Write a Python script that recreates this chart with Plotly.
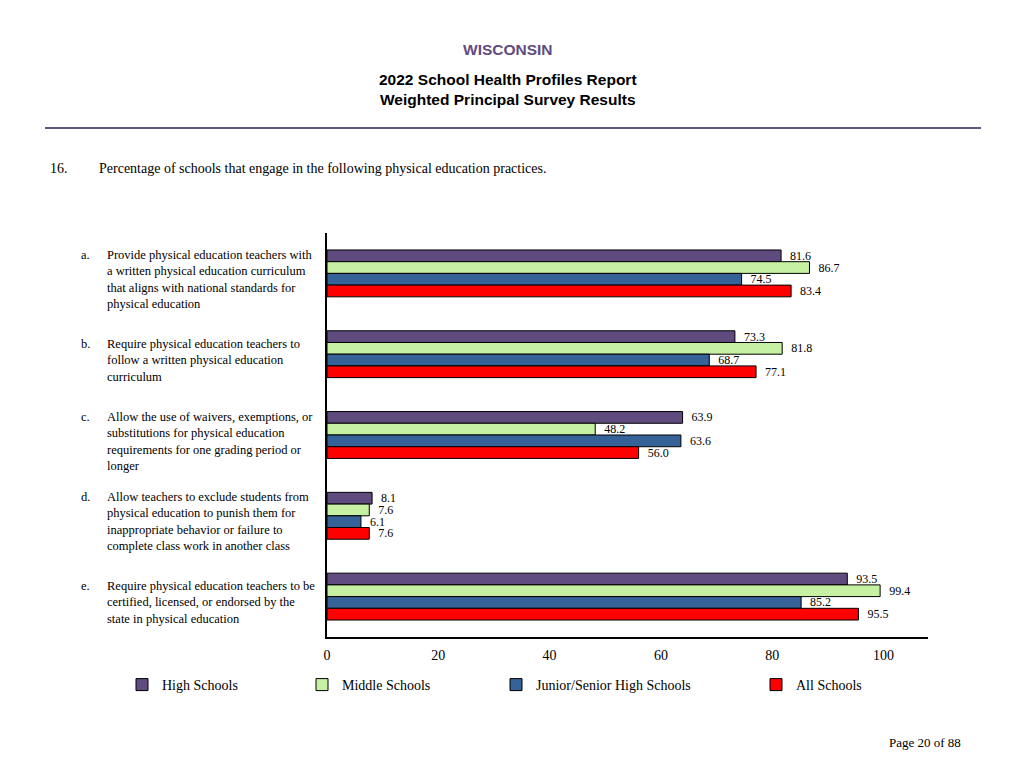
import plotly.graph_objects as go

# ---------------- data ----------------
categories = ["a", "b", "c", "d", "e"]
letters = ["a.", "b.", "c.", "d.", "e."]
cat_labels = [
    "Provide physical education teachers with<br>a written physical education curriculum<br>that aligns with national standards for<br>physical education",
    "Require physical education teachers to<br>follow a written physical education<br>curriculum",
    "Allow the use of waivers, exemptions, or<br>substitutions for physical education<br>requirements for one grading period or<br>longer",
    "Allow teachers to exclude students from<br>physical education to punish them for<br>inappropriate behavior or failure to<br>complete class work in another class",
    "Require physical education teachers to be<br>certified, licensed, or endorsed by the<br>state in physical education",
]
series_names = ["High Schools", "Middle Schools", "Junior/Senior High Schools", "All Schools"]
high_schools = [81.6, 73.3, 63.9, 8.1, 93.5]
middle_schools = [86.7, 81.8, 48.2, 7.6, 99.4]
junior_senior = [74.5, 68.7, 63.6, 6.1, 85.2]
all_schools = [83.4, 77.1, 56.0, 7.6, 95.5]
x_ticks = [0, 20, 40, 60, 80, 100]

series_values = [high_schools, middle_schools, junior_senior, all_schools]
colors = ["#5F4B7E", "#C6F0A2", "#356297", "#FF0000"]

# ---------------- layout geometry ----------------
# page body margin offsets the figure by 8px
OFF = 8
W, H = 1024 - OFF, 768 - OFF
L, R, T, B = 327 - OFF, 928 - OFF, 233 - OFF, 637 - OFF
PW, PH = R - L, B - T


def px(x):
    return (x - OFF - L) / PW


def py(y):
    return (B - (y - OFF)) / PH


SERIF = "Liberation Serif, Times New Roman, serif"
SANS = "Liberation Sans, Arial, sans-serif"

fig = go.Figure()
legend_ids = ["legend", "legend2", "legend3", "legend4"]
for name, vals, col, lg in zip(series_names, series_values, colors, legend_ids):
    fig.add_trace(go.Bar(
        y=categories, x=vals, name=name, orientation="h",
        marker=dict(color=col, line=dict(color="black", width=1)),
        texttemplate="\u00a0\u00a0%{x:.1f}", textposition="outside",
        textfont=dict(family=SERIF, size=12, color="black"),
        constraintext="none", cliponaxis=False,
        legend=lg, hoverinfo="skip",
    ))

annotations = []
# header
annotations.append(dict(text="<b>WISCONSIN</b>", x=px(508), y=py(49), xref="paper", yref="paper",
                        showarrow=False, font=dict(family=SANS, size=15.5, color="#5F4B7E"),
                        xanchor="center", yanchor="middle"))
annotations.append(dict(text="<b>2022 School Health Profiles Report</b>", x=px(508), y=py(79),
                        xref="paper", yref="paper", showarrow=False,
                        font=dict(family=SANS, size=15.5, color="black"), xanchor="center", yanchor="middle"))
annotations.append(dict(text="<b>Weighted Principal Survey Results</b>", x=px(508), y=py(100),
                        xref="paper", yref="paper", showarrow=False,
                        font=dict(family=SANS, size=15.5, color="black"), xanchor="center", yanchor="middle"))
annotations.append(dict(text="16.", x=px(48), y=py(168), xref="paper", yref="paper", showarrow=False,
                        font=dict(family=SERIF, size=14, color="black"), xanchor="left", yanchor="middle"))
annotations.append(dict(text="Percentage of schools that engage in the following physical education practices.",
                        x=px(97), y=py(168), xref="paper", yref="paper", showarrow=False,
                        font=dict(family=SERIF, size=14, color="black"), xanchor="left", yanchor="middle"))
annotations.append(dict(text="Page 20 of 88", x=px(963), y=py(742), xref="paper", yref="paper",
                        showarrow=False, font=dict(family=SERIF, size=13, color="black"),
                        xanchor="right", yanchor="middle"))

# category labels
for cat, let, lab in zip(categories, letters, cat_labels):
    n = lab.count("<br>") + 1
    annotations.append(dict(text=lab, x=px(105), y=cat, xref="paper", yref="y", showarrow=False,
                            align="left", xanchor="left", yanchor="middle", yshift=-6,
                            font=dict(family=SERIF, size=12.5, color="black")))
    annotations.append(dict(text=let + "<br>\u00a0" * (n - 1), x=px(79), y=cat, xref="paper", yref="y",
                            showarrow=False, align="left", xanchor="left", yanchor="middle", yshift=-6,
                            font=dict(family=SERIF, size=12.5, color="black")))

shapes = [dict(type="line", xref="paper", yref="paper", x0=px(45), x1=px(981), y0=py(128), y1=py(128),
               line=dict(color="#5E5888", width=2))]

legend_text_x = [160, 340, 534, 794]
legend_common = dict(orientation="h", yanchor="middle", xanchor="left", y=py(685),
                     font=dict(family=SERIF, size=14, color="black"), bgcolor="rgba(0,0,0,0)",
                     itemwidth=30, borderwidth=0)
layout_legends = {}
for lg, tx in zip(legend_ids, legend_text_x):
    layout_legends[lg] = dict(legend_common, x=px(tx - 38))

fig.update_layout(
    width=W, height=H,
    margin=dict(l=L, r=W - R, t=T, b=H - B, autoexpand=False),
    paper_bgcolor="white", plot_bgcolor="white",
    barmode="group", bargap=0.42, bargroupgap=0,
    showlegend=True,
    xaxis=dict(range=[0, 108], tickvals=x_ticks, showgrid=False, zeroline=False,
               showline=True, linecolor="black", linewidth=1.5, ticks="",
               ticklabelstandoff=4,
               tickfont=dict(family=SERIF, size=14, color="black"), fixedrange=True),
    yaxis=dict(autorange="reversed", showticklabels=False, showgrid=False, zeroline=False,
               showline=True, linecolor="black", linewidth=1.5, ticks="", fixedrange=True),
    annotations=annotations, shapes=shapes,
    **layout_legends,
)

fig.write_html("out.html")
